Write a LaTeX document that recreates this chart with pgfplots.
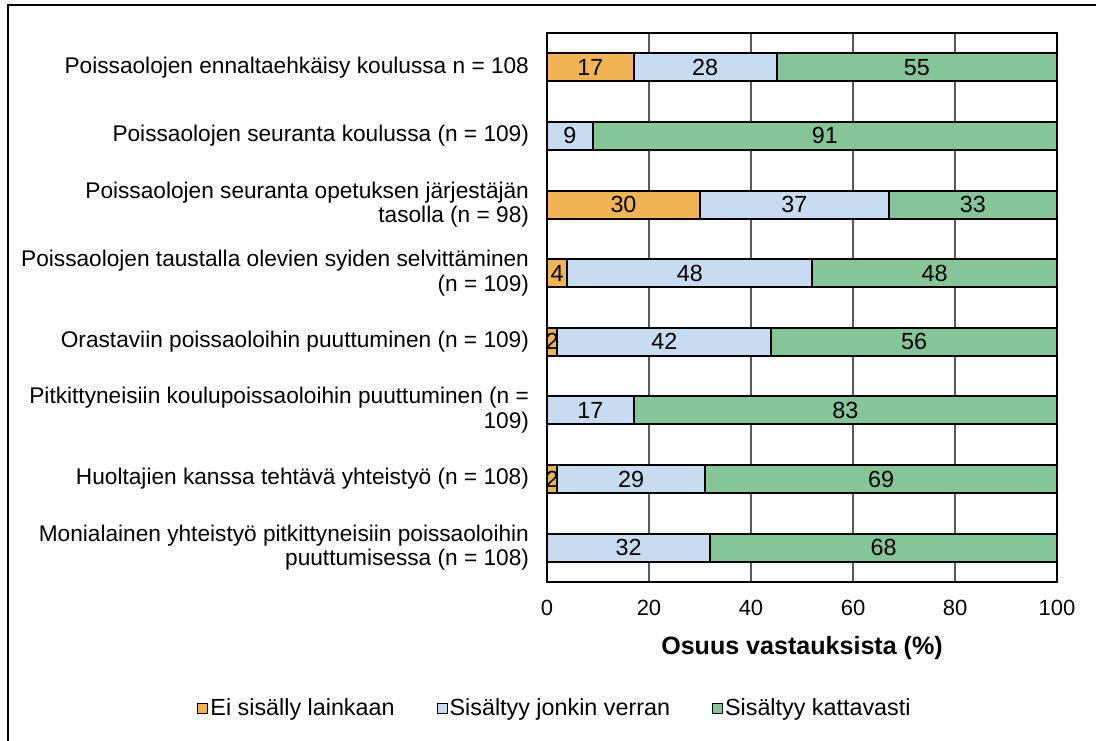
\documentclass[border=0pt]{standalone}
\usepackage{pgfplots}
\usepackage{pgfplotstable}
\pgfplotsset{compat=1.18}
\usepackage{fontspec}
\setmainfont{Liberation Sans}
\definecolor{cOrange}{RGB}{240,180,86}
\definecolor{cBlue}{RGB}{199,220,240}
\definecolor{cGreen}{RGB}{134,197,152}
\definecolor{cGrid}{RGB}{90,90,90}
\pgfplotstableread{
y a b c
0 17 28 55
1 0 9 91
2 30 37 33
3 4 48 48
4 2 42 56
5 0 17 83
6 2 29 69
7 0 32 68
}\data
\begin{document}
\begin{tikzpicture}
\useasboundingbox (0pt,0pt) rectangle (822pt,-555pt);
\draw[line width=1.5pt] (6pt,-560pt) |- (830pt,-3.75pt);
\begin{axis}[
  at={(410.25pt,-436.5pt)}, anchor=south west,
  width=382.5pt, height=411.75pt, scale only axis,
  xmin=0, xmax=100, ymin=-0.5, ymax=7.5, y dir=reverse,
  xtick={0,20,...,100}, ytick={0,...,7},
  yticklabels={
    {Poissaolojen ennaltaehkäisy koulussa n = 108},
    {Poissaolojen seuranta koulussa (n = 109)},
    {Poissaolojen seuranta opetuksen järjestäjän\\tasolla (n = 98)},
    {Poissaolojen taustalla olevien syiden selvittäminen\\(n = 109)},
    {Orastaviin poissaoloihin puuttuminen (n = 109)},
    {Pitkittyneisiin koulupoissaoloihin puuttuminen (n =\\109)},
    {Huoltajien kanssa tehtävä yhteistyö (n = 108)},
    {Monialainen yhteistyö pitkittyneisiin poissaoloihin\\puuttumisessa (n = 108)}},
  yticklabel style={align=right, font=\fontsize{17}{18.5}\selectfont, xshift=-10pt},
  xticklabel style={font=\fontsize{16.5}{18}\selectfont, yshift=-10pt},
  /pgf/number format/assume math mode=true,
  major tick length=0pt,
  axis line style={line width=1.5pt},
  xmajorgrids, grid style={cGrid, line width=1pt},
  axis on top=false,
  xlabel={Osuus vastauksista (\%)},
  xlabel style={font=\fontsize{18.8}{20}\selectfont\bfseries, yshift=-9pt},
  legend style={at={(0.0157,-0.2295)}, anchor=center, legend columns=3, draw=none,
    font=\fontsize{17.5}{19}\selectfont,
    /tikz/every even column/.append style={column sep=30pt},
    nodes={inner xsep=1.5pt}},
  legend image code/.code={\draw[#1, line width=0.75pt] (0pt,-3.75pt) rectangle (7.5pt,3.75pt);},
  reverse legend,
  every node near coord/.append style={anchor=center, font=\fontsize{17.5}{19}\selectfont, text=black},
]
\addplot[xbar, bar width=21pt, bar shift=0pt, fill=cGreen, draw=black, line width=1.5pt]
  table[x expr=\thisrow{a}+\thisrow{b}+\thisrow{c}, y=y]{\data};
\addlegendentry{Sisältyy kattavasti}
\addplot[xbar, bar width=21pt, bar shift=0pt, fill=cBlue, draw=black, line width=1.5pt]
  table[x expr=\thisrow{a}+\thisrow{b}, y=y]{\data};
\addlegendentry{Sisältyy jonkin verran}
\addplot[xbar, bar width=21pt, bar shift=0pt, fill=cOrange, draw=black, line width=1.5pt,
  x filter/.expression={x==0 ? nan : x}, unbounded coords=discard]
  table[x=a, y=y]{\data};
\addlegendentry{Ei sisälly lainkaan}
% value labels
\addplot[draw=none, forget plot, nodes near coords, point meta=explicit,
  x filter/.expression={x==0 ? nan : x}, unbounded coords=discard]
  table[x expr=\thisrow{a}/2, y=y, meta=a]{\data};
\addplot[draw=none, forget plot, nodes near coords, point meta=explicit]
  table[x expr=\thisrow{a}+\thisrow{b}/2, y=y, meta=b]{\data};
\addplot[draw=none, forget plot, nodes near coords, point meta=explicit]
  table[x expr=\thisrow{a}+\thisrow{b}+\thisrow{c}/2, y=y, meta=c]{\data};
\end{axis}
\end{tikzpicture}
\end{document}
